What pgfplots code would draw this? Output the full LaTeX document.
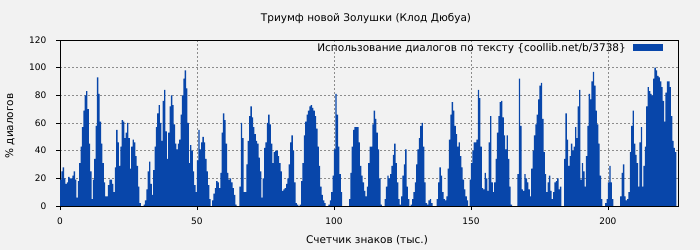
\documentclass[border=0pt]{standalone}
\usepackage{fontspec}
\setmainfont{DejaVu Sans}
\usepackage{pgfplots}
\pgfplotsset{compat=1.18}
\usepackage{pgfplotstable}
\usetikzlibrary{backgrounds}
\definecolor{bgc}{HTML}{F2F2F2}
\definecolor{barc}{HTML}{0846AA}
\pgfplotstableread[row sep=\\, header=false]{
19\\25\\28\\20\\16\\17\\21\\20\\20\\22\\
25\\19\\6\\18\\31\\43\\57\\69\\80\\83\\
70\\45\\25\\5\\19\\34\\58\\93\\81\\61\\
45\\31\\17\\7\\7\\15\\19\\19\\16\\10\\
28\\55\\46\\29\\43\\62\\61\\49\\53\\60\\
49\\27\\43\\48\\46\\36\\29\\14\\2\\0\\
0\\1\\4\\12\\25\\32\\16\\8\\26\\43\\
57\\67\\73\\60\\47\\76\\
84\\54\\34\\53\\72\\80\\73\\59\\45\\41\\
45\\48\\66\\80\\92\\98\\85\\60\\31\\44\\
40\\25\\15\\10\\33\\55\\41\\46\\50\\46\\
34\\25\\15\\5\\0\\4\\9\\13\\18\\17\\
13\\24\\53\\67\\62\\45\\24\\19\\20\\17\\
13\\8\\1\\0\\0\\14\\60\\49\\10\\10\\
30\\47\\65\\72\\64\\57\\52\\47\\45\\35\\
25\\6\\20\\42\\46\\60\\
66\\59\\45\\31\\39\\40\\40\\36\\
31\\25\\11\\12\\13\\16\\20\\30\\46\\51\\
40\\17\\2\\1\\0\\1\\18\\31\\51\\61\\
66\\69\\72\\73\\71\\69\\65\\56\\43\\29\\
14\\8\\4\\2\\0\\0\\1\\4\\10\\22\\
41\\81\\66\\43\\23\\10\\0\\0\\0\\0\\
0\\5\\24\\43\\55\\57\\57\\57\\46\\29\\
22\\17\\11\\7\\14\\31\\43\\43\\
59\\69\\63\\53\\41\\20\\1\\0\\0\\5\\
14\\22\\20\\23\\29\\37\\45\\31\\17\\5\\
1\\7\\22\\30\\41\\14\\5\\0\\1\\5\\
10\\17\\30\\41\\49\\58\\60\\43\\17\\2\\
1\\4\\5\\2\\0\\0\\0\\5\\17\\28\\
22\\10\\5\\4\\7\\27\\48\\66\\75\\69\\
58\\52\\43\\46\\36\\28\\19\\12\\7\\4\\
0\\19\\31\\40\\46\\46\\
48\\84\\78\\43\\13\\12\\24\\20\\11\\46\\
65\\17\\10\\17\\34\\53\\65\\75\\76\\64\\
51\\41\\51\\34\\14\\1\\0\\0\\0\\0\\
23\\92\\58\\12\\11\\23\\20\\17\\12\\7\\
27\\40\\51\\59\\66\\77\\87\\89\\63\\39\\
23\\10\\17\\22\\11\\5\\10\\17\\18\\20\\
12\\14\\0\\0\\34\\67\\48\\29\\36\\45\\
40\\43\\57\\49\\72\\84\\
19\\31\\25\\14\\36\\58\\81\\77\\90\\97\\
87\\69\\59\\45\\22\\5\\0\\0\\2\\5\\
17\\29\\17\\5\\0\\0\\0\\0\\0\\7\\
24\\30\\7\\4\\5\\10\\39\\58\\69\\45\\
37\\31\\14\\46\\57\\14\\29\\43\\72\\86\\
83\\81\\80\\92\\100\\98\\94\\93\\90\\86\\
76\\61\\82\\90\\90\\86\\65\\47\\42\\39\\
39\\
}\dialog
\begin{document}
\fontsize{10.5bp}{12.5bp}\selectfont
\begin{tikzpicture}
\begin{scope}[on background layer]
\fill[bgc] (0,0) rectangle (700bp,250bp);
\end{scope}
\begin{axis}[
  at={(60bp,44bp)}, anchor=south west,
  scale only axis, width=618bp, height=166bp,
  xmin=0, xmax=225.6, ymin=0, ymax=120,
  xtick={0,50,100,150,200}, ytick={0,20,40,60,80,100,120},
  xtick pos=left, ytick pos=left,
  tick align=outside, major tick length=4bp,
  tick style={black, line width=0.6bp},
  grid=major,
  major grid style={black!45, dash pattern=on 2bp off 2bp, line width=0.6bp},
  axis line style={black, line width=0.8bp},
  tick label style={font=\fontsize{9bp}{11bp}\selectfont},
  xticklabel style={yshift=-4bp},
  yticklabel style={xshift=-6bp},
  /pgf/number format/assume math mode=true,
  legend style={at={(1,1)}, anchor=north east, draw=none, fill=none,
    xshift=-12bp, yshift=1bp, font=\fontsize{10.5bp}{12.5bp}\selectfont},
  legend plot pos=right, legend cell align=right,
  legend image code/.code={\path (0bp,0bp); \fill[barc] (5bp,-3.5bp) rectangle (35bp,3.5bp);},
]
\addplot[fill=barc, draw=none, const plot mark left]
  table[x expr=\coordindex*0.5, y index=0] {\dialog} \closedcycle;
\addlegendentry{Использование диалогов по тексту \{coollib.net/b/3738\}}
\end{axis}
\node at (366bp,231bp) {Триумф новой Золушки (Клод Дюбуа)};
\node at (367bp,10bp) {Счетчик знаков (тыс.)};
\node[rotate=90] at (10bp,124bp) {\% диалогов};
\end{tikzpicture}
\end{document}
